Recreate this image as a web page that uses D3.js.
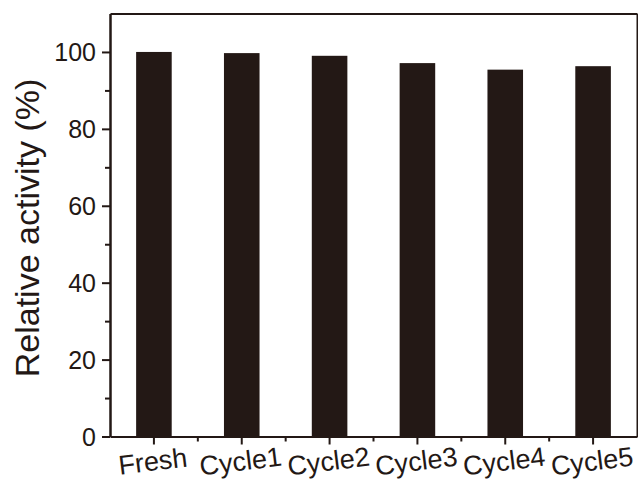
<!DOCTYPE html>
<html>
  <head>
    <meta charset="utf-8">
    <script src="https://d3js.org/d3.v7.min.js"></script>
    <style>
      body {
        margin: 0;
        background: #fff;
      }
      svg text {
        font-family: "Liberation Sans", Arial, sans-serif;
        fill: #231815;
      }
      svg .axis path,
      svg .axis line {
        stroke: #231815;
        stroke-width: 2;
      }
      svg rect.bar {
        fill: #231815;
      }
    </style>
  </head>
<body>
  <script type="text/javascript">
    // data
    var categories = ["Fresh", "Cycle1", "Cycle2", "Cycle3", "Cycle4", "Cycle5"];
    var activity = [100, 99.7, 99.0, 97.1, 95.4, 96.3];
    var yMajorTicks = [0, 20, 40, 60, 80, 100];
    var yMinorTicks = [10, 30, 50, 70, 90];
    var yLabel = "Relative activity (%)";

    var width = 638,
        height = 486,
        plotLeft = 110,
        plotRight = 637,
        plotTop = 13.5,
        plotBottom = 436.5,
        barFraction = 0.405;

    var svg = d3.select("body")
      .append("svg")
        .attr("width", width)
        .attr("height", height);

    var x = d3.scaleBand()
      .domain(categories)
      .range([plotLeft, plotRight])
      .padding(0);

    var y = d3.scaleLinear()
      .domain([0, 110])
      .range([plotBottom, plotTop]);

    // bars
    var barW = x.bandwidth() * barFraction;
    svg.append("g")
      .selectAll("rect")
      .data(categories)
      .enter()
      .append("rect")
        .attr("class", "bar")
        .attr("x", function(d) { return x(d) + (x.bandwidth() - barW) / 2; })
        .attr("y", function(d, i) { return y(activity[i]); })
        .attr("width", barW)
        .attr("height", function(d, i) { return y(0) - y(activity[i]); });

    // frame (top and right)
    svg.append("g")
      .attr("class", "axis")
      .attr("transform", "translate(0," + plotTop + ")")
      .call(d3.axisTop(x).tickValues([]).tickSizeOuter(0));
    svg.append("g")
      .attr("class", "axis")
      .attr("transform", "translate(" + plotRight + ",0)")
      .call(d3.axisRight(y).tickValues([]).tickSizeOuter(0));

    // y axis, minor then major
    svg.append("g")
      .attr("class", "axis")
      .attr("transform", "translate(" + plotLeft + ",0)")
      .call(d3.axisLeft(y).tickValues(yMinorTicks).tickSize(5).tickSizeOuter(0).tickFormat(""));
    var yAxis = svg.append("g")
      .attr("class", "axis")
      .attr("transform", "translate(" + plotLeft + ",0)")
      .call(d3.axisLeft(y).tickValues(yMajorTicks).tickSize(8).tickSizeOuter(0).tickPadding(6));
    yAxis.selectAll("text")
      .attr("font-size", 25)
      .attr("dy", "0.35em");

    // x axis: minor ticks at band edges, major at centres
    var edges = categories.slice(1).map(function(d) { return x(d); });
    svg.append("g")
      .selectAll("line")
      .data(edges)
      .enter()
      .append("line")
        .attr("x1", function(d) { return d; })
        .attr("x2", function(d) { return d; })
        .attr("y1", plotBottom)
        .attr("y2", plotBottom + 5)
        .attr("stroke", "#231815")
        .attr("stroke-width", 2);
    var xAxis = svg.append("g")
      .attr("class", "axis")
      .attr("transform", "translate(0," + plotBottom + ")")
      .call(d3.axisBottom(x).tickSize(8).tickSizeOuter(0));
    xAxis.selectAll("text").remove();
    xAxis.selectAll(".tick")
      .append("text")
        .attr("transform", "translate(0,34) rotate(-7)")
        .attr("text-anchor", "middle")
        .attr("font-size", 27)
        .text(function(d) { return d; });

    // y label
    svg.append("text")
      .attr("transform", "translate(39,228) rotate(-90)")
      .attr("text-anchor", "middle")
      .attr("font-size", 34)
      .text(yLabel);
  </script>
</body>
</html>
